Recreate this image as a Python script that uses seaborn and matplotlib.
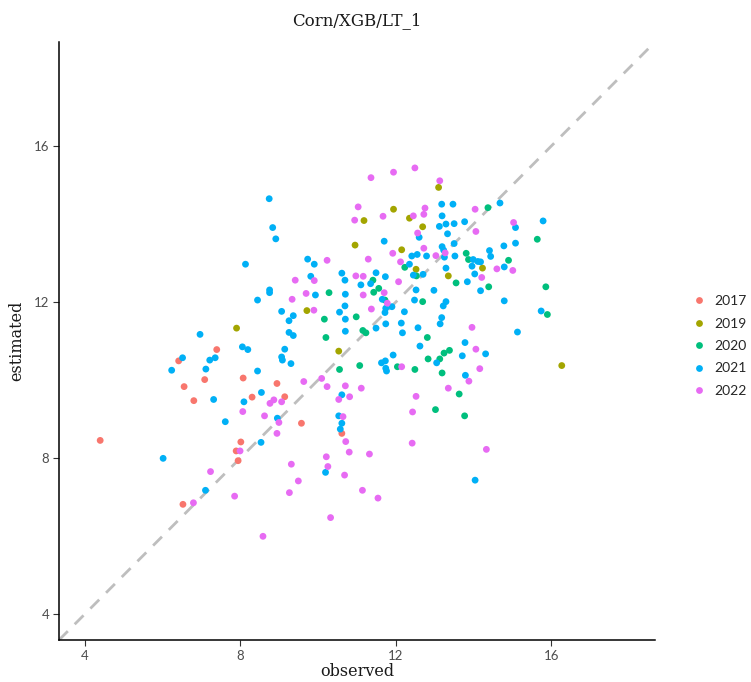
import matplotlib
matplotlib.use("Agg")
import matplotlib.pyplot as plt
import seaborn as sns
import pandas as pd

years = ["2017", "2019", "2020", "2021", "2022"]
colors = ["#F8766D", "#A3A500", "#00BF7D", "#00B0F6", "#E76BF3"]

obs_2017 = [4.39, 7.39, 6.41, 7.08, 8.07, 6.55, 8.94, 8.30, 6.80, 9.14, 9.57, 10.61, 8.01, 7.89, 7.94, 6.52]
est_2017 = [8.45, 10.78, 10.49, 10.01, 10.05, 9.83, 9.91, 9.56, 9.47, 9.57, 8.89, 8.63, 8.41, 8.18, 7.93, 6.81]

obs_2019 = [11.94, 11.18, 12.35, 12.69, 10.95, 12.15, 12.52, 13.10, 14.23, 13.35, 9.71, 10.53, 7.90, 16.27]
est_2019 = [14.38, 14.09, 14.15, 13.93, 13.46, 13.34, 12.84, 14.94, 12.87, 12.67, 11.78, 10.74, 11.33, 10.37]

obs_2020 = [12.23, 12.53, 11.41, 11.56, 11.43, 10.28, 11.72, 12.69, 10.16, 10.98, 10.20, 11.15, 11.23,
            10.55, 11.07, 12.04, 12.49, 14.37, 15.64, 14.90, 15.86, 14.39, 13.81, 13.87, 13.55, 15.90,
            12.81, 13.24, 13.38, 12.83, 13.13, 13.19, 13.63, 13.02, 13.77]
est_2020 = [12.89, 12.67, 12.56, 12.35, 12.25, 12.24, 12.05, 12.01, 11.56, 11.62, 11.09, 11.27, 11.21,
            10.27, 10.37, 10.34, 10.27, 14.42, 13.61, 13.07, 12.39, 12.39, 13.25, 13.09, 12.49, 11.68,
            11.09, 10.69, 10.76, 10.54, 10.54, 10.18, 9.64, 9.24, 9.08]

obs_2021 = [8.74, 8.83, 8.91, 8.13, 8.75, 8.75,
            12.60, 11.70, 12.41, 12.55, 12.35, 12.45, 12.70, 9.73, 9.90, 9.81, 10.61, 10.69, 11.49, 11.73,
            11.10, 11.35, 12.52, 9.93, 10.70,
            11.65, 11.90, 11.74, 11.72, 12.48, 9.06, 10.55, 10.69, 12.22, 9.36, 9.25, 10.70, 11.74, 12.14,
            12.57, 9.25, 9.36, 10.70, 11.49, 12.17, 12.62, 9.14, 9.06, 9.08, 9.30, 11.93, 11.63, 11.73,
            11.74, 11.76, 10.61, 10.53, 10.61,
            10.57, 10.19,
            7.61, 8.53, 6.01, 7.10,
            8.44, 6.96, 8.05, 8.19, 6.51, 7.21, 7.35, 6.23, 7.11, 8.44, 8.54, 8.09, 7.31, 8.95,
            13.18, 13.47, 14.68, 13.19, 13.12, 13.29, 13.50, 13.77, 13.33, 15.08, 15.79, 15.08, 14.78,
            14.41, 14.44, 14.79, 14.18, 13.50, 13.19, 13.23, 12.79, 13.25, 13.52, 13.99, 14.11, 14.18,
            13.96, 13.29, 14.03, 13.84, 12.98,
            13.29, 13.22, 14.79, 15.74, 13.18, 13.14, 15.13, 13.78, 14.31, 13.05, 13.71, 13.79,
            14.04]
est_2021 = [14.65, 13.91, 13.62, 12.97, 12.31, 12.24,
            13.66, 13.56, 13.18, 13.22, 12.97, 12.69, 12.71, 13.10, 12.97, 12.66, 12.74, 12.56, 12.75, 12.65,
            12.44, 12.47, 12.31, 12.18, 12.20,
            12.07, 11.88, 11.84, 11.73, 12.05, 11.76, 11.74, 11.90, 11.75, 11.65, 11.52, 11.56, 11.44, 11.46,
            11.34, 11.22, 11.14, 11.25, 11.33, 11.21, 10.87, 10.79, 10.59, 10.51, 10.42, 10.64, 10.44, 10.49,
            10.30, 10.23, 9.62, 9.08, 8.89,
            8.74, 7.63,
            8.93, 8.40, 7.99, 7.17,
            12.05, 11.17, 10.85, 10.78, 10.57, 10.51, 10.57, 10.25, 10.28, 10.23, 9.68, 9.44, 9.50, 9.02,
            14.51, 14.51, 14.54, 14.21, 13.94, 14.00, 14.01, 14.06, 13.75, 13.91, 14.08, 13.51, 13.44,
            13.32, 13.17, 12.90, 12.29, 13.50, 13.42, 13.33, 13.18, 13.15, 13.18, 13.09, 13.04, 13.03,
            12.92, 12.87, 12.72, 12.52, 12.30,
            12.01, 11.90, 12.03, 11.77, 11.60, 11.44, 11.23, 10.96, 10.67, 10.44, 10.62, 10.12,
            7.43]

obs_2022 = [11.36, 11.94, 12.49, 11.03, 10.94, 11.67, 12.45, 12.75, 12.72, 12.56, 12.72, 11.92, 12.12,
            10.23, 11.29, 9.41, 9.90, 10.97, 11.16, 12.07, 9.69, 11.16, 11.70,
            9.33, 11.78, 9.89, 11.37, 12.15, 9.63, 10.09, 10.23, 10.70, 11.11, 10.53, 10.81, 12.52, 12.43,
            9.06, 10.64,
            10.71, 10.80, 11.32, 12.42, 10.21, 10.25, 10.68, 9.31, 9.49, 9.26, 11.14, 11.54, 10.32,
            8.99, 8.94, 7.99, 7.23, 6.79, 7.85, 8.58,
            8.86, 8.76, 8.06, 8.62,
            13.13, 14.04, 14.06, 15.03, 15.01, 14.60, 13.03, 13.27, 14.21,
            13.96, 14.06, 14.16, 13.88, 13.35,
            14.33]
est_2022 = [15.19, 15.33, 15.44, 14.44, 14.10, 14.20, 14.21, 14.41, 14.25, 13.77, 13.38, 13.25, 13.03,
            13.07, 13.10, 12.56, 12.55, 12.67, 12.66, 12.52, 12.22, 12.18, 12.24,
            12.07, 11.97, 11.79, 11.82, 10.34, 9.96, 10.04, 9.83, 9.85, 9.79, 9.50, 9.57, 9.58, 9.18,
            9.44, 9.06,
            8.42, 8.15, 8.10, 8.38, 8.03, 7.78, 7.56, 7.84, 7.41, 7.11, 7.17, 6.97, 6.47,
            8.91, 8.63, 8.18, 7.65, 6.85, 7.02, 5.99,
            9.49, 9.40, 9.19, 9.08,
            15.11, 14.38, 13.81, 14.04, 12.81, 12.85, 13.19, 13.26, 12.63,
            11.35, 10.79, 10.29, 9.97, 9.79,
            8.22]

ticks = [4, 8, 12, 16]
tick_labels = ["4", "8", "12", "16"]

obs_all = [obs_2017, obs_2019, obs_2020, obs_2021, obs_2022]
est_all = [est_2017, est_2019, est_2020, est_2021, est_2022]
rows = []
for yr, ox, ey in zip(years, obs_all, est_all):
    for a, b in zip(ox, ey):
        rows.append({"observed": a, "estimated": b, "year": yr})
df = pd.DataFrame(rows)

sns.set_style("white")
fig = plt.figure(figsize=(7.51, 6.82), dpi=100)
ax = fig.add_axes([59 / 751, 42 / 682, 596 / 751, 598 / 682])

lo, hi = 3.33, 18.67
ax.plot([lo, hi], [lo, hi], color="#BEBEBE", lw=2.0, ls=(0, (4.5, 3.5)), zorder=1)

sns.scatterplot(data=df, x="observed", y="estimated", hue="year", hue_order=years,
                palette=colors, s=24, linewidth=0, ax=ax, zorder=3)

ax.set_xlim(lo, hi)
ax.set_ylim(lo, hi)
ax.set_xticks(ticks)
ax.set_xticklabels(tick_labels)
ax.set_yticks(ticks)
ax.set_yticklabels(tick_labels)
for side in ["top", "right"]:
    ax.spines[side].set_visible(False)
for side in ["left", "bottom"]:
    ax.spines[side].set_color("black")
    ax.spines[side].set_linewidth(1.1)
ax.tick_params(axis="both", direction="out", length=4, width=0.8, color="#333333",
               labelcolor="#4D4D4D", labelsize=9.5, pad=3, bottom=True, left=True)
for lab in ax.get_xticklabels() + ax.get_yticklabels():
    lab.set_family("Lato")

ax.set_xlabel("observed", family="DejaVu Serif", fontsize=11.5, color="#1A1A1A", labelpad=1)
ax.set_ylabel("estimated", family="DejaVu Serif", fontsize=11.5, color="#1A1A1A", labelpad=6)
ax.set_title("Corn/XGB/LT_1", family="DejaVu Serif", fontsize=12, color="#1A1A1A", pad=12)

handles, labels = ax.get_legend_handles_labels()
ax.legend(handles, labels, loc="center left", bbox_to_anchor=(680 / 751, 1 - 346 / 682),
          bbox_transform=fig.transFigure, frameon=False, title=None,
          prop={"family": "Lato", "size": 10}, labelspacing=0.75, handletextpad=0.6,
          markerscale=1.0, handlelength=1.0)

fig.savefig("out.png", dpi=100)
